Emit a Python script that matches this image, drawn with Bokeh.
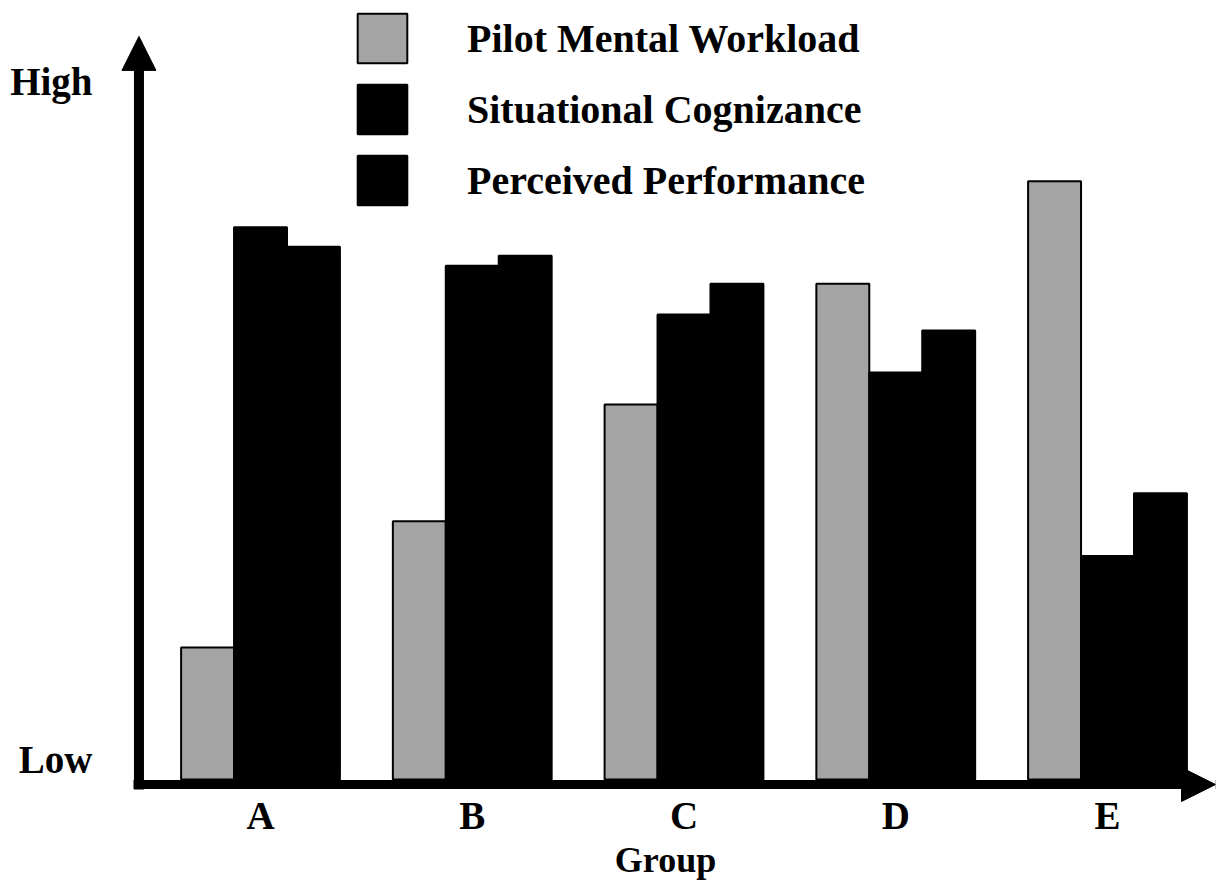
from bokeh.plotting import figure
from bokeh.models import (ColumnDataSource, Range1d, FixedTicker, Arrow, NormalHead,
                          Legend, LegendItem)
from bokeh.embed import file_html
from bokeh.resources import INLINE

groups = ["A", "B", "C", "D", "E"]
series = ["Pilot Mental Workload", "Situational Cognizance", "Perceived Performance"]
pilot_mental_workload = [18.9, 37.0, 53.7, 71.0, 85.7]
situational_cognizance = [79.1, 73.6, 66.6, 58.3, 32.0]
perceived_performance = [76.3, 75.0, 71.0, 64.3, 41.0]
y_tick_labels = ["Low", "High"]
x_axis_title = "Group"

FONT = "Liberation Serif"
x_pos = list(range(len(groups)))
x_lo, x_hi = -0.6848, 4.51
y_lo, y_hi = -3.571, 111.57
x_axis_start = -0.5998
y_axis_start = -1.43
y_arrow_tip = 106.43

p = figure(width=1217, height=882, output_backend="svg", toolbar_location=None,
           x_range=Range1d(x_lo, x_hi), y_range=Range1d(y_lo, y_hi),
           min_border_left=115, min_border_right=2, min_border_top=0, min_border_bottom=76)
p.outline_line_color = None
p.grid.visible = False
p.background_fill_color = "white"

bw = 0.25
values = [pilot_mental_workload, situational_cognizance, perceived_performance]
fills = ["#a4a4a4", "black", "black"]
offsets = [-bw, 0.0, bw]
renderers = []
for vals, fc, off in zip(values, fills, offsets):
    src = ColumnDataSource(dict(x=[xi + off for xi in x_pos], top=vals))
    r = p.vbar(x="x", top="top", bottom=0, width=bw, source=src,
               fill_color=fc, line_color="black", line_width=2)
    renderers.append(r)

legend = Legend(items=[LegendItem(label=s, renderers=[r]) for s, r in zip(series, renderers)],
                location=(236, 593), orientation="vertical",
                glyph_width=62, glyph_height=62, label_height=62, label_standoff=54,
                spacing=9, padding=0, margin=0,
                border_line_alpha=0, background_fill_alpha=0,
                label_text_font=FONT, label_text_font_size="40px",
                label_text_font_style="bold", label_text_color="black",
                label_text_baseline="middle")
p.add_layout(legend, "center")

# axes: labels only, lines drawn as arrows
p.xaxis.ticker = FixedTicker(ticks=x_pos)
p.xaxis.major_label_overrides = {i: g for i, g in zip(x_pos, groups)}
p.xaxis.axis_line_color = None
p.xaxis.major_tick_line_color = None
p.xaxis.minor_tick_line_color = None
p.xaxis.major_label_text_font = FONT
p.xaxis.major_label_text_font_size = "39px"
p.xaxis.major_label_text_font_style = "bold"
p.xaxis.major_label_text_color = "black"
p.xaxis.major_label_standoff = -17
p.xaxis.axis_label = x_axis_title
p.xaxis.axis_label_text_font = FONT
p.xaxis.axis_label_text_font_size = "36px"
p.xaxis.axis_label_text_font_style = "bold"
p.xaxis.axis_label_text_color = "black"
p.xaxis.axis_label_standoff = 0

y_ticks = [2.9, 99.9]
p.yaxis.ticker = FixedTicker(ticks=y_ticks)
p.yaxis.major_label_overrides = {t: l for t, l in zip(y_ticks, y_tick_labels)}
p.yaxis.axis_line_color = None
p.yaxis.major_tick_line_color = None
p.yaxis.minor_tick_line_color = None
p.yaxis.major_label_orientation = "horizontal"
p.yaxis.major_label_text_font = FONT
p.yaxis.major_label_text_font_size = "39px"
p.yaxis.major_label_text_font_style = "bold"
p.yaxis.major_label_text_color = "black"
p.yaxis.major_label_standoff = 17

x_axis_y = -0.71
y_axis_x = -0.574
p.add_layout(Arrow(end=NormalHead(size=34, fill_color="black", line_color="black"),
                   x_start=x_axis_start, y_start=x_axis_y, x_end=x_hi, y_end=x_axis_y,
                   line_width=9, line_color="black"))
p.add_layout(Arrow(end=NormalHead(size=34, fill_color="black", line_color="black"),
                   x_start=y_axis_x, y_start=y_axis_start, x_end=y_axis_x, y_end=y_arrow_tip,
                   line_width=10, line_color="black"))

open("out.html", "w").write(file_html(p, INLINE))
